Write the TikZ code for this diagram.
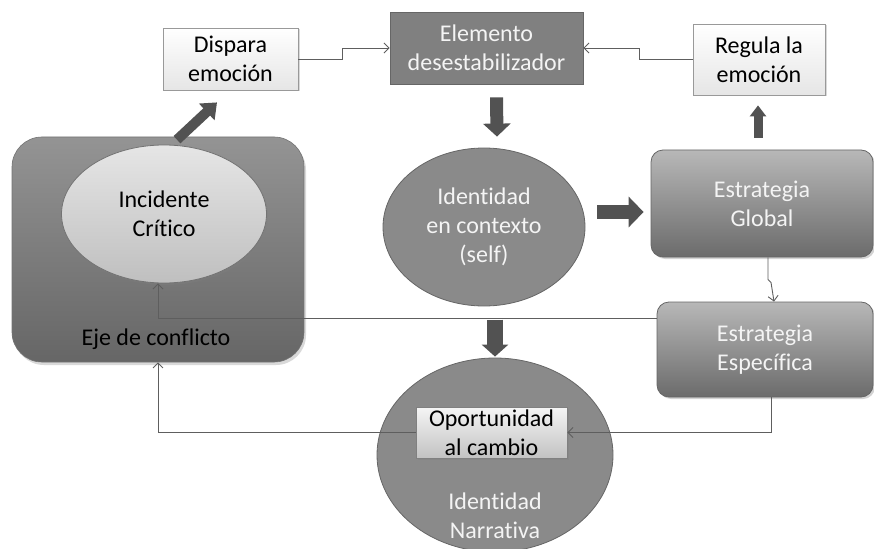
\documentclass[tikz,border=0pt]{standalone}
\usepackage{fontspec}
\setmainfont{Carlito}[Ligatures={NoCommon,NoRare,NoContextual}]
\usetikzlibrary{arrows.meta,shapes.geometric,shadows,calc}
\definecolor{lnc}{HTML}{5E5E5E}
\definecolor{txw}{HTML}{F4F4F4}
\begin{document}
\begin{tikzpicture}[x=1pt,y=-1pt,
  every node/.style={font=\fontsize{24}{29}\selectfont, align=center, inner sep=0pt},
  lightbox/.style={draw=black!40, top color=white, bottom color=black!10, line width=0.8pt,
     drop shadow={shadow xshift=1.5pt,shadow yshift=-1.5pt,opacity=0.3}},
  darkbox/.style={draw=black!60, fill=black!50, text=txw, line width=0.8pt},
  roundbox/.style={draw=black!60, rounded corners=12pt, top color=black!28, bottom color=black!58,
     text=txw, line width=0.8pt, drop shadow={shadow xshift=2pt,shadow yshift=-2pt,opacity=0.35}},
  darkell/.style={ellipse, draw=black!60, fill=black!46, text=txw, line width=0.8pt},
  conn/.style={draw=lnc, line width=0.9pt, -{Straight Barb[length=5pt,width=10pt]}},
  fatarrow/.style={draw=black!68, line width=#1}
]
\useasboundingbox (0,0) rectangle (874,548);

% Eje de conflicto
\node[draw=black!55, rounded corners=30pt, top color=black!42, bottom color=black!60,
      minimum width=292pt, minimum height=225pt, line width=0.6pt,
      drop shadow={shadow xshift=2pt,shadow yshift=-3pt,opacity=0.3}] (eje) at (158,249.5) {};
\node (ejetxt) at (156,339) {Eje de conflicto};
\node[ellipse, draw=black!55, top color=black!10, bottom color=black!25, line width=0.8pt,
      minimum width=205pt, minimum height=138pt,
      drop shadow={shadow xshift=1.5pt,shadow yshift=-2pt,opacity=0.3}] (inc) at (164,214) {Incidente\\Crítico};

% top boxes
\node[lightbox, minimum width=135pt, minimum height=62pt] (dispara) at (230.5,59) {Dispara\\emoción};
\node[darkbox, minimum width=193pt, minimum height=72pt] (elem) at (486.5,48) {Elemento\\desestabilizador};
\node[lightbox, minimum width=132pt, minimum height=71pt] (regula) at (759,59.5) {Regula la\\emoción};

% identidad en contexto
\node[darkell, minimum width=202pt, minimum height=158pt] (ident) at (484,227) {Identidad\\en contexto\\(self)};

% estrategias
\node[roundbox, minimum width=222pt, minimum height=107pt] (global) at (762,203.5) {Estrategia\\Global};
\node[roundbox, minimum width=216pt, minimum height=95pt] (espec) at (765,349.5) {Estrategia\\Específica};

% identidad narrativa
\node[darkell, minimum width=236pt, minimum height=194pt] (narr) at (495,455) {};
\node[text=txw] (narrtxt) at (495,516) {Identidad\\Narrativa};
\node[draw=black!50, top color=black!4, bottom color=black!24, line width=0.8pt,
      minimum width=151pt, minimum height=51pt,
      drop shadow={shadow xshift=1.5pt,shadow yshift=-2pt,opacity=0.35}] (oport) at (491.5,432.5) {Oportunidad\\al cambio};

% thin connectors
\draw[conn] (dispara.east) -- ++(44,0) |- (elem.west);
\draw[conn] (regula.west) -- ++(-53,0) |- (elem.east);
\draw[conn] ([xshift=6pt]global.south) -- ++(0,22) -- ++(3,3) -- ([xshift=9pt]espec.north);
\draw[conn] ([yshift=31.5pt]espec.west) -| ([xshift=-6pt]inc.south);
\draw[conn] ([xshift=6pt]espec.south) |- (oport.east);
\draw[conn] (oport.west) -| (eje.south);

% fat arrows
\draw[fatarrow=13pt, -{Triangle[length=13pt,width=27pt]}] ([xshift=10pt,yshift=-13pt]elem.south) -- ([xshift=13pt,yshift=11pt]ident.north);
\draw[fatarrow=14pt, -{Triangle[length=15pt,width=30pt]}] ([xshift=12pt,yshift=15pt]ident.east) -- ([xshift=-7pt]global.west |- 0,212);
\draw[fatarrow=9pt, -{Triangle[length=11pt,width=16pt]}] ([xshift=-4pt,yshift=12pt]global.north) -- ([xshift=-1pt,yshift=-10pt]regula.south);
\draw[fatarrow=16pt, -{Triangle[length=12pt,width=26pt]}] ([yshift=38pt]narr.north) -- ([yshift=1pt]narr.north);
\draw[fatarrow=10pt, -{Triangle[length=14pt,width=22pt]}] ([xshift=19pt,yshift=-3pt]eje.north) -- ([xshift=-13.5pt,yshift=-12pt]dispara.south);
\end{tikzpicture}
\end{document}
